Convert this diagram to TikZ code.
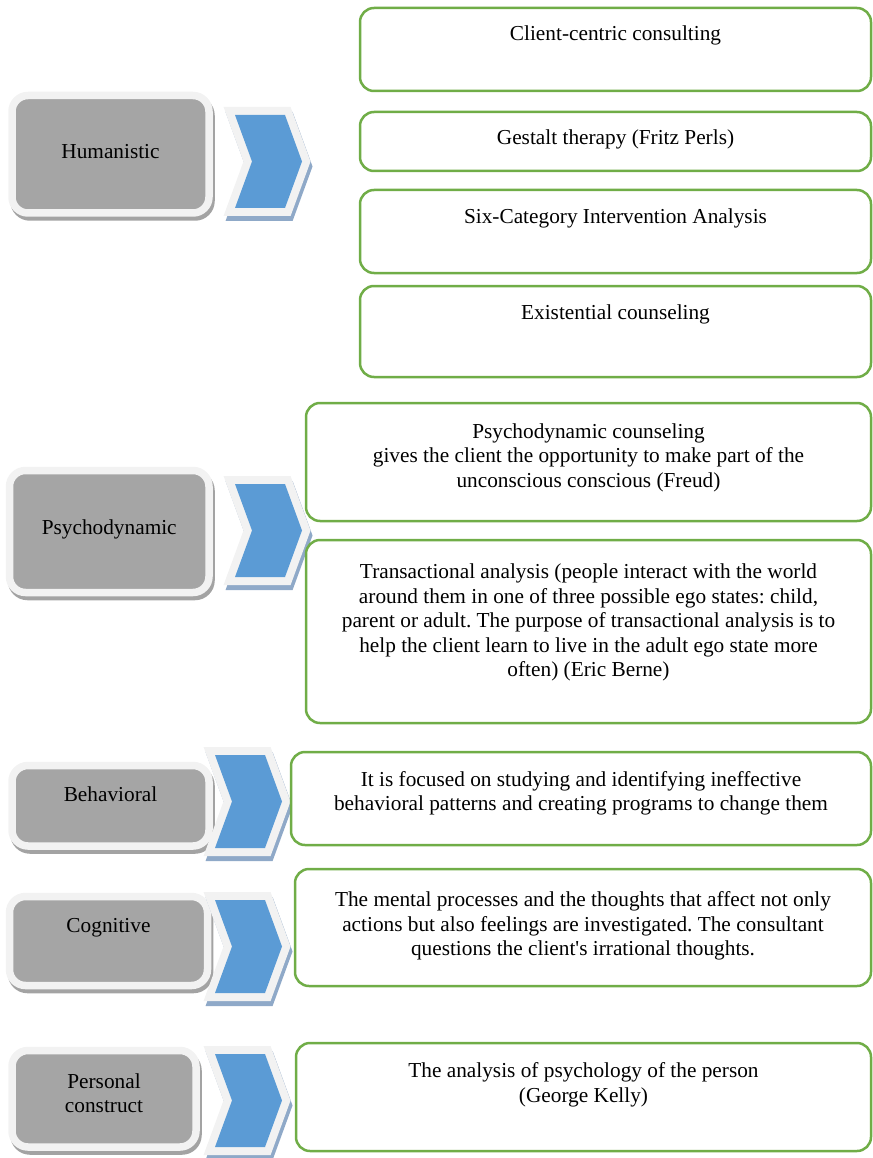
\documentclass[tikz,border=0pt]{standalone}
\usepackage{fontspec}
\setmainfont{Liberation Serif}
\usetikzlibrary{positioning}
\definecolor{boxgreen}{HTML}{70AD47}
\definecolor{chevblue}{HTML}{5B9BD5}
\definecolor{chevshade}{HTML}{8FA9C8}
\definecolor{catgray}{HTML}{A5A5A5}
\definecolor{framegray}{HTML}{F2F2F2}
\definecolor{shadegray}{HTML}{A3A3A3}
\tikzset{
	catbox/.style={rectangle, rounded corners=16pt, inner sep=0pt, fill=catgray, draw=framegray, line width=7.5pt,
		preaction={draw=shadegray, line width=7.5pt, transform canvas={shift={(2pt,-4pt)}}}},
	greenbox/.style={rectangle, rounded corners=14pt, inner sep=0pt, fill=white, draw=boxgreen, line width=2.5pt},
	txt/.style={anchor=north, align=center, inner sep=0pt, font=\fontsize{21.3}{24.5}\selectfont},
	chev/.style={fill=chevblue, line join=miter,
		preaction={draw=chevshade, fill=chevshade, line width=16pt, line join=miter, transform canvas={shift={(2pt,-5pt)}}},
		preaction={draw=framegray, line width=16pt, line join=miter}}
}
\def\chevron(#1,#2){\path[chev] (#1,#2) -- ++(50,0) -- ++(17,46.5) -- ++(-17,46.5) -- ++(-50,0) -- ++(17,-46.5) -- cycle;}
\frenchspacing

\begin{document}
\begin{tikzpicture}[x=1pt,y=-1pt]
				\useasboundingbox (0,0) rectangle (872,1158);
				
				% left column
				\node[catbox, minimum width=197, minimum height=117.5] (hum) at (110.5,154.25) {};
				\node[catbox, minimum width=199.5, minimum height=122] (psy) at (109.25,531.5) {};
				\node[catbox, minimum width=197, minimum height=80.5] (beh) at (110.5,805.75) {};
				\node[catbox, minimum width=198, minimum height=89] (cog) at (108.5,941) {};
				\node[catbox, minimum width=184, minimum height=96.5] (pers) at (104,1098.75) {};
				
				\node[txt, below=52.5pt of hum.north] (humL) {Humanistic};
				\node[txt, below=52.5pt of psy.north] (psyL) {Psychodynamic};
				\node[txt, below=25pt of beh.north] (behL) {Behavioral};
				\node[txt, below=25pt of cog.north] (cogL) {Cognitive};
				\node[txt, below=26.5pt of pers.north] (persL) {Personal\\construct};
				
				% chevrons
				\chevron(235,115)
				\chevron(235,484)
				\chevron(215,755)
				\chevron(215,900)
				\chevron(215,1054)
				
				% right column
				\node[greenbox, minimum width=511, minimum height=83] (cc) at (615.5,49.5) {};
				\node[greenbox, minimum width=511, minimum height=59] (gest) at (615.5,141.5) {};
				\node[greenbox, minimum width=511, minimum height=83] (six) at (615.5,231.5) {};
				\node[greenbox, minimum width=511, minimum height=91] (exist) at (615.5,331.5) {};
				\node[greenbox, minimum width=565, minimum height=118] (pcoun) at (588.5,462) {};
				\node[greenbox, minimum width=565, minimum height=183] (trans) at (588.5,631.5) {};
				\node[greenbox, minimum width=580, minimum height=93] (btext) at (581,798.5) {};
				\node[greenbox, minimum width=576, minimum height=117] (ctext) at (583,927.5) {};
				\node[greenbox, minimum width=575, minimum height=108] (ptext) at (583.5,1097) {};
				
				\node[txt, below=19pt of cc.north] (ccL) {Client-centric consulting};
				\node[txt, below=18.5pt of gest.north] (gestL) {Gestalt therapy (Fritz Perls)};
				\node[txt, below=19.5pt of six.north] (sixL) {Six-Category Intervention Analysis};
				\node[txt, below=19.5pt of exist.north] (existL) {Existential counseling};
				\node[txt, below=21.5pt of pcoun.north] (pcounL) {Psychodynamic counseling\\gives the client the opportunity to make part of the\\unconscious conscious (Freud)};
				\node[txt, below=25pt of trans.north] (transL) {Transactional analysis (people interact with the world\\around them in one of three possible ego states: child,\\parent or adult. The purpose of transactional analysis is to\\help the client learn to live in the adult ego state more\\often) (Eric Berne)};
				\node[txt, below=20.5pt of btext.north] (btextL) {It is focused on studying and identifying ineffective\\behavioral patterns and creating programs to change them};
				\node[txt, below=24pt of ctext.north] (ctextL) {The mental processes and the thoughts that affect not only\\actions but also feelings are investigated. The consultant\\questions the client\textquotesingle s irrational thoughts.};
				\node[txt, below=21pt of ptext.north] (ptextL) {The analysis of psychology of the person\\(George Kelly)};
			\end{tikzpicture}
\end{document}
